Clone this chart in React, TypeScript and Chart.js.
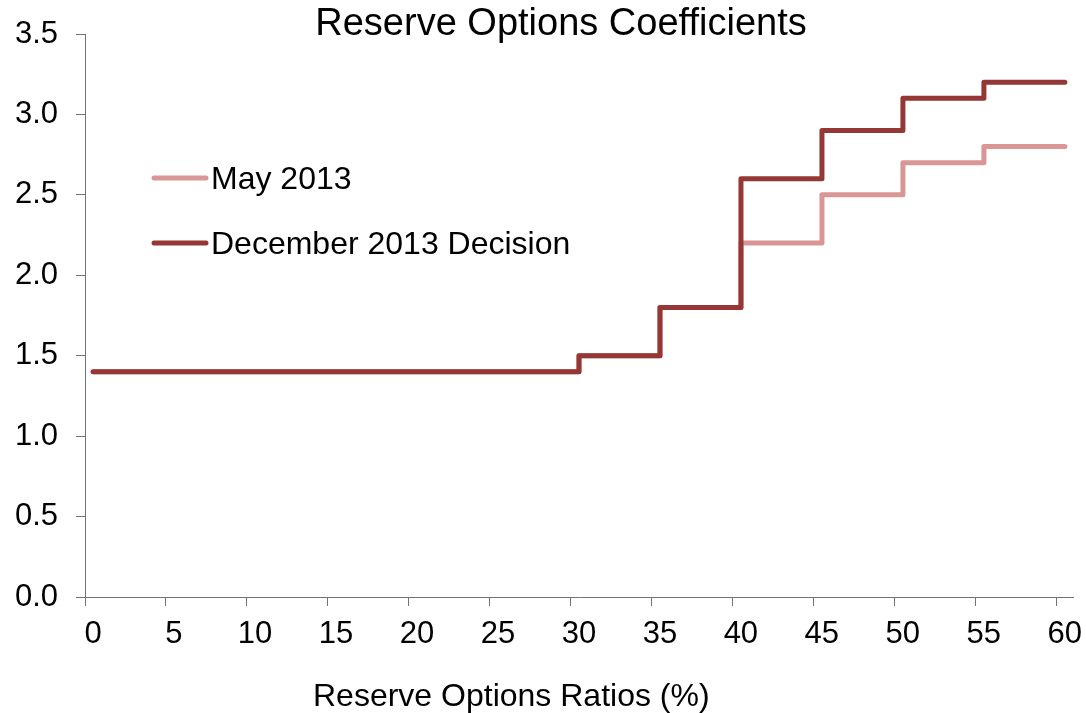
import React, { useEffect, useRef } from "react";
import { Chart, registerables } from "chart.js";

Chart.register(...registerables);

// Reserve options ratio (%) at which each coefficient step begins / ends
const stepEdges = [0.5, 30.5, 35.5, 40.5, 45.5, 50.5, 55.5, 60.5];
// Coefficient reached at each edge (stepped "before": value changes at the edge)
const may2013 = [1.4, 1.5, 1.8, 2.2, 2.5, 2.7, 2.8, 2.8];
const dec2013 = [1.4, 1.5, 1.8, 2.6, 2.9, 3.1, 3.2, 3.2];

const seriesNames = ["May 2013", "December 2013 Decision"];
const seriesColors = ["#D99694", "#953735"];
const chartTitle = "Reserve Options Coefficients";
const xAxisTitle = "Reserve Options Ratios (%)";

const FONT = '"Liberation Sans", Arial, Helvetica, sans-serif';
const W = 1086;
const H = 713;

const toPoints = (ys: number[]) => stepEdges.map((x, i) => ({ x, y: ys[i] }));

// Draws the title, the x-axis title and the in-plot legend
const textPlugin = {
  id: "textPlugin",
  afterDraw(chart: any) {
    const ctx = chart.ctx as CanvasRenderingContext2D;
    ctx.save();
    ctx.fillStyle = "#000";
    ctx.textBaseline = "alphabetic";

    ctx.font = `38px ${FONT}`;
    ctx.textAlign = "center";
    ctx.fillText(chartTitle, 561, 35);

    ctx.font = `32px ${FONT}`;
    ctx.textAlign = "left";
    ctx.fillText(xAxisTitle, 313, 706);

    const legendY = [178, 243];
    seriesNames.forEach((name, i) => {
      ctx.strokeStyle = seriesColors[i];
      ctx.lineWidth = 5;
      ctx.lineCap = "round";
      ctx.beginPath();
      ctx.moveTo(154, legendY[i]);
      ctx.lineTo(206, legendY[i]);
      ctx.stroke();
      ctx.fillStyle = "#000";
      ctx.fillText(name, 211, legendY[i] + 11);
    });
    ctx.restore();
  },
};

export default function App() {
  const canvasRef = useRef<HTMLCanvasElement | null>(null);

  useEffect(() => {
    document.body.style.margin = "0";
    const canvas = canvasRef.current;
    if (!canvas) return;

    const axisColor = "#737373";
    const chart = new Chart(canvas, {
      type: "line",
      data: {
        datasets: [
          {
            label: seriesNames[0],
            data: toPoints(may2013),
            borderColor: seriesColors[0],
            backgroundColor: seriesColors[0],
            borderWidth: 5,
            stepped: "before",
            pointRadius: 0,
            borderCapStyle: "round",
            borderJoinStyle: "round",
            order: 1,
          },
          {
            label: seriesNames[1],
            data: toPoints(dec2013),
            borderColor: seriesColors[1],
            backgroundColor: seriesColors[1],
            borderWidth: 5,
            stepped: "before",
            pointRadius: 0,
            borderCapStyle: "round",
            borderJoinStyle: "round",
            order: 0,
          },
        ],
      },
      options: {
        responsive: false,
        animation: false,
        layout: { padding: { top: 34, right: 13, bottom: 0, left: 0 } },
        plugins: {
          legend: { display: false },
          title: { display: false },
          tooltip: { enabled: false },
        },
        scales: {
          x: {
            type: "linear",
            min: 0,
            max: 61,
            afterFit: (s: any) => {
              s.height = H - 597;
              s.paddingLeft = 0;
              s.paddingRight = 0;
            },
            ticks: {
              stepSize: 5,
              includeBounds: false,
              labelOffset: 8,
              padding: 10,
              color: "#000",
              font: { family: FONT, size: 31 },
              maxRotation: 0,
              autoSkip: false,
            },
            grid: {
              drawOnChartArea: false,
              drawTicks: true,
              tickLength: 9,
              color: axisColor,
              lineWidth: 1,
            },
            border: { color: axisColor, width: 1 },
          },
          y: {
            min: 0,
            max: 3.5,
            afterFit: (s: any) => {
              s.width = 85;
              s.paddingTop = 0;
              s.paddingBottom = 0;
            },
            ticks: {
              stepSize: 0.5,
              padding: 18,
              color: "#000",
              font: { family: FONT, size: 31 },
              callback: (v: any) => Number(v).toFixed(1),
            },
            grid: {
              drawOnChartArea: false,
              drawTicks: true,
              tickLength: 9,
              color: axisColor,
              lineWidth: 1,
            },
            border: { color: axisColor, width: 1 },
          },
        },
      },
      plugins: [textPlugin],
    });

    return () => chart.destroy();
  }, []);

  return (
    <div style={{ width: W, height: H }}>
      <canvas ref={canvasRef} width={W} height={H} style={{ display: "block" }} />
    </div>
  );
}
